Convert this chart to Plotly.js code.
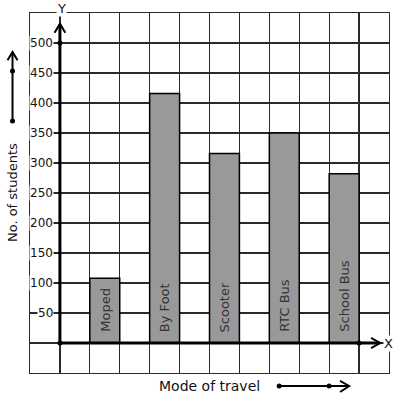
<!DOCTYPE html>
<html>
<head>
<meta charset="utf-8">
<script src="https://cdn.plot.ly/plotly-3.0.1.min.js"></script>
<style>html,body{margin:0;padding:0;background:#fff;}#chart{width:397px;height:399px;}</style>
</head>
<body>
<div id="chart"></div>
<script>
const categories = ["Moped", "By Foot", "Scooter", "RTC Bus", "School Bus"];
const students = [108, 416, 316, 350, 282];
const yTickValues = [50, 100, 150, 200, 250, 300, 350, 400, 450, 500];
const yTickLabels = ["50", "100", "150", "200", "250", "300", "350", "400", "450", "500"];
const xTitle = "Mode of travel";
const yTitle = "No. of students";

const FONT = "DejaVu Sans, sans-serif";
const xPos = categories.map((c, i) => 1.5 + 2 * i);

const trace = {
  type: "bar",
  x: xPos,
  y: students,
  width: 1,
  marker: {color: "#999999", line: {color: "#000", width: 1.5}},
  hoverinfo: "none"
};

const annotations = [];
yTickValues.forEach((v, i) => {
  annotations.push({
    xref: "x", yref: "y", x: 0, y: v, xanchor: "right", yanchor: "middle",
    xshift: -6, text: yTickLabels[i], showarrow: false,
    bgcolor: "#fff", borderpad: 0,
    font: {family: FONT, size: 12, color: "#111"}
  });
});
categories.forEach((c, i) => {
  annotations.push({
    xref: "x", yref: "y", x: xPos[i], y: 0, xanchor: "center", yanchor: "bottom",
    yshift: 9, text: c, textangle: -90, showarrow: false,
    font: {family: FONT, size: 13, color: "#333"}
  });
});
annotations.push({
  xref: "x", yref: "paper", x: 0, y: 1, xanchor: "center", yanchor: "middle", xshift: 2, yshift: 5,
  text: "Y", showarrow: false, bgcolor: "#fff", borderpad: 0,
  font: {family: FONT, size: 13, color: "#111"}
});
annotations.push({
  xref: "paper", yref: "y", x: 1, y: 0, xanchor: "center", yanchor: "middle", xshift: -1,
  text: "X", showarrow: false, bgcolor: "#fff", borderpad: 0,
  font: {family: FONT, size: 13, color: "#111"}
});
annotations.push({
  xref: "paper", yref: "paper", x: -0.05, y: 0.5, xanchor: "center", yanchor: "middle",
  text: yTitle, textangle: -90, showarrow: false,
  font: {family: FONT, size: 13, color: "#111"}
});
annotations.push({
  xref: "paper", yref: "paper", x: 0.5, y: -0.035, xanchor: "center", yanchor: "middle",
  text: xTitle, showarrow: false,
  font: {family: FONT, size: 14, color: "#111"}
});

function dot(xref, yref, x, y) {
  return {type: "circle", xref: xref, yref: yref, xsizemode: "pixel", ysizemode: "pixel",
    xanchor: x, yanchor: y, x0: -2.5, x1: 2.5, y0: -2.5, y1: 2.5,
    fillcolor: "#000", line: {width: 0}};
}
const LW = 3;
const shapes = [
  // y axis
  {type: "line", xref: "x", yref: "y", x0: 0, x1: 0, y0: 0, y1: 531, line: {color: "#000", width: LW}},
  {type: "path", xref: "x", yref: "y", path: "M -0.18 517 L 0 532 L 0.18 517", line: {color: "#000", width: 2}},
  // x axis
  {type: "line", xref: "x", yref: "y", x0: 0, x1: 10.7, y0: 0, y1: 0, line: {color: "#000", width: LW}},
  {type: "path", xref: "x", yref: "y", path: "M 10.4 8.5 L 10.7 0 L 10.4 -8.5", line: {color: "#000", width: 2}},
  dot("x", "y", 0, 0), dot("x", "y", 0, 500), dot("x", "y", 10, 0),
  // left arrow
  {type: "line", xref: "paper", yref: "paper", x0: -0.0487, x1: -0.0487, y0: 0.7, y1: 0.89, line: {color: "#000", width: 2}},
  {type: "path", xref: "paper", yref: "paper", path: "M -0.0626 0.869 L -0.0487 0.892 L -0.0348 0.869", line: {color: "#000", width: 2}},
  dot("paper", "paper", -0.0487, 0.7), dot("paper", "paper", -0.0487, 0.839),
  // bottom arrow
  {type: "line", xref: "paper", yref: "paper", x0: 0.694, x1: 0.888, y0: -0.0361, y1: -0.0361, line: {color: "#000", width: 2}},
  {type: "path", xref: "paper", yref: "paper", path: "M 0.8637 -0.0222 L 0.889 -0.0361 L 0.8637 -0.0528", line: {color: "#000", width: 2}},
  dot("paper", "paper", 0.694, -0.0361), dot("paper", "paper", 0.833, -0.0361)
];

const layout = {
  width: 397, height: 399,
  margin: {l: 30, r: 8, t: 13, b: 26, pad: 0},
  paper_bgcolor: "#fff", plot_bgcolor: "#fff",
  showlegend: false,
  xaxis: {range: [-1, 11], dtick: 1, tick0: 0, showgrid: true, gridcolor: "#2a2a2a", gridwidth: 1.2,
    zeroline: false, showticklabels: false, ticks: "", showline: true, mirror: true, linecolor: "#2a2a2a", linewidth: 1.2, fixedrange: true},
  yaxis: {range: [-50, 550], dtick: 50, tick0: 0, showgrid: true, gridcolor: "#2a2a2a", gridwidth: 1.2,
    zeroline: false, showticklabels: false, ticks: "", showline: true, mirror: true, linecolor: "#2a2a2a", linewidth: 1.2, fixedrange: true},
  annotations: annotations,
  shapes: shapes
};

Plotly.newPlot("chart", [trace], layout, {displayModeBar: false, staticPlot: true});
</script>
</body>
</html>
